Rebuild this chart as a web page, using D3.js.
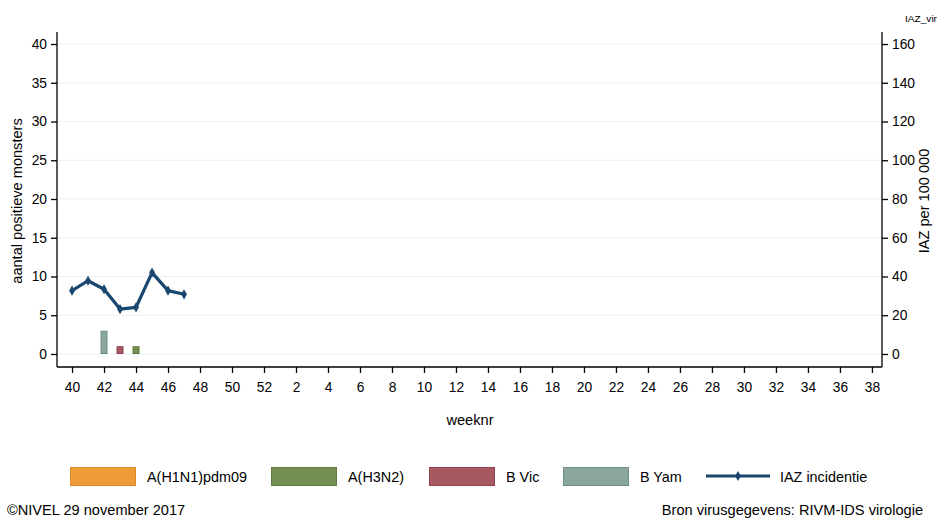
<!DOCTYPE html>
<html>
<head>
<meta charset="utf-8">
<script src="https://cdn.jsdelivr.net/npm/d3@7"></script>
<style>
  body { margin: 0; background: #fff; }
  svg { font-family: "Liberation Sans", Arial, sans-serif; }
</style>
</head>
<body>
<div id="chart"></div>
<script>
// weken van het seizoen 2017/2018
const weeks = [40, 41, 42, 43, 44, 45, 46, 47];
const h1n1 = [0, 0, 0, 0, 0, 0, 0, 0];
const h3n2 = [0, 0, 0, 0, 1, 0, 0, 0];
const bVic = [0, 0, 0, 1, 0, 0, 0, 0];
const bYam = [0, 0, 3, 0, 0, 0, 0, 0];
const iaz = [32.7, 37.8, 33.4, 23.2, 24.1, 42.0, 32.7, 30.8];

const tickWeeks = [40, 42, 44, 46, 48, 50, 52, 2, 4, 6, 8, 10, 12, 14, 16, 18, 20, 22, 24, 26, 28, 30, 32, 34, 36, 38];
const leftTicks = [0, 5, 10, 15, 20, 25, 30, 35, 40];
const rightTicks = [0, 20, 40, 60, 80, 100, 120, 140, 160];

const seriesNames = ["A(H1N1)pdm09", "A(H3N2)", "B Vic", "B Yam"];
const seriesFill = ["#ee9b3a", "#748f52", "#a8585f", "#8ba79d"];
const seriesStroke = ["#e08a22", "#5f7d3e", "#914250", "#6f8f84"];
const lineColor = "#1a476f";

const W = 940, H = 518;
const svg = d3.select("#chart").append("svg").attr("width", W).attr("height", H);

// week -> positie in het seizoen (week 53 bestaat niet, 52 -> 1 -> 2)
const seasonIdx = w => w >= 40 ? w - 40 : w + 12;

const x = d3.scaleLinear().domain([-0.94, 50.63]).range([57, 882]);
const y = d3.scaleLinear().domain([-1.68, 41.55]).range([367, 32]);
const y2 = d3.scaleLinear().domain([-1.68 * 4, 41.55 * 4]).range([367, 32]);

// rasterlijnen
svg.append("g").selectAll("line").data(leftTicks).join("line")
  .attr("x1", 58).attr("x2", 881)
  .attr("y1", d => y(d)).attr("y2", d => y(d))
  .attr("stroke", "#e8f0f2").attr("stroke-width", 1);

// gestapelde staven
const rows = weeks.map((w, i) => ({ week: w, s0: h1n1[i], s1: h3n2[i], s2: bVic[i], s3: bYam[i] }));
const stack = d3.stack().keys(["s0", "s1", "s2", "s3"])(rows);
const barW = 7;
svg.append("g").selectAll("g").data(stack).join("g")
  .attr("fill", (d, i) => seriesFill[i]).attr("stroke", (d, i) => seriesStroke[i])
  .selectAll("rect").data(d => d.filter(p => p[1] > p[0])).join("rect")
  .attr("x", d => x(seasonIdx(d.data.week)) - barW / 2 + 0.5)
  .attr("width", barW - 1)
  .attr("y", d => y(d[1]) + 0.5)
  .attr("height", d => y(d[0]) - y(d[1]) - 1);

// IAZ lijn
const line = d3.line().x((d, i) => x(seasonIdx(weeks[i]))).y(d => y2(d));
svg.append("path").datum(iaz).attr("d", line)
  .attr("fill", "none").attr("stroke", lineColor).attr("stroke-width", 3.2).attr("stroke-linejoin", "round");
svg.append("g").selectAll("path").data(iaz).join("path")
  .attr("d", d3.symbol(d3.symbolDiamond, 30))
  .attr("transform", (d, i) => `translate(${x(seasonIdx(weeks[i]))},${y2(d)})`)
  .attr("fill", lineColor);

// assen
const leftAxis = svg.append("g").attr("transform", "translate(57,0)")
  .call(d3.axisLeft(y).tickValues(leftTicks).tickSize(6).tickPadding(4));
const rightAxis = svg.append("g").attr("transform", "translate(882,0)")
  .call(d3.axisRight(y2).tickValues(rightTicks).tickSize(6).tickPadding(4));
const bottomAxis = svg.append("g").attr("transform", "translate(0,367)")
  .call(d3.axisBottom(x).tickValues(tickWeeks.map(seasonIdx)).tickFormat((d, i) => tickWeeks[i]).tickSize(6).tickPadding(9));

[leftAxis, rightAxis, bottomAxis].forEach(a => {
  a.select(".domain").attr("stroke", "#000").attr("stroke-width", 1.3);
  a.selectAll(".tick line").attr("stroke", "#000").attr("stroke-width", 1.3);
  a.selectAll(".tick text").attr("fill", "#000").attr("font-size", 13.8)
    .attr("font-family", "'Liberation Sans', Arial, sans-serif");
});
leftAxis.select(".domain").attr("d", "M-0,32V367");
rightAxis.select(".domain").attr("d", "M0,32V367");
bottomAxis.select(".domain").attr("d", "M57,0H882");

// astitels
svg.append("text").attr("transform", "translate(22,201) rotate(-90)")
  .attr("text-anchor", "middle").attr("font-size", 14.6).text("aantal positieve monsters");
svg.append("text").attr("transform", "translate(929,201) rotate(-90)")
  .attr("text-anchor", "middle").attr("font-size", 14.6).text("IAZ per 100 000");
svg.append("text").attr("x", 470).attr("y", 425).attr("text-anchor", "middle")
  .attr("font-size", 14.6).text("weeknr");
svg.append("text").attr("x", 937).attr("y", 22).attr("text-anchor", "end")
  .attr("font-size", 9).attr("textLength", 32).attr("lengthAdjust", "spacingAndGlyphs").text("IAZ_vir");

// legenda
const legendX = [70, 271, 429, 563];
const legend = svg.append("g");
seriesNames.forEach((name, i) => {
  legend.append("rect").attr("x", legendX[i] + 0.5).attr("y", 467.5).attr("width", 65).attr("height", 18)
    .attr("fill", seriesFill[i]).attr("stroke", seriesStroke[i]);
  legend.append("text").attr("x", legendX[i] + 77).attr("y", 481.5).attr("font-size", 14.4).text(name);
});
legend.append("line").attr("x1", 706).attr("x2", 770).attr("y1", 476).attr("y2", 476)
  .attr("stroke", lineColor).attr("stroke-width", 3.2);
legend.append("path").attr("d", d3.symbol(d3.symbolDiamond, 30)).attr("transform", "translate(738,476)")
  .attr("fill", lineColor);
legend.append("text").attr("x", 780).attr("y", 481.5).attr("font-size", 14.4).text("IAZ incidentie");

// voetnoten
svg.append("text").attr("x", 7).attr("y", 515).attr("font-size", 14.6).text("©NIVEL 29 november 2017");
svg.append("text").attr("x", 923).attr("y", 515).attr("text-anchor", "end").attr("font-size", 14.6)
  .text("Bron virusgegevens: RIVM-IDS virologie");
</script>
</body>
</html>
